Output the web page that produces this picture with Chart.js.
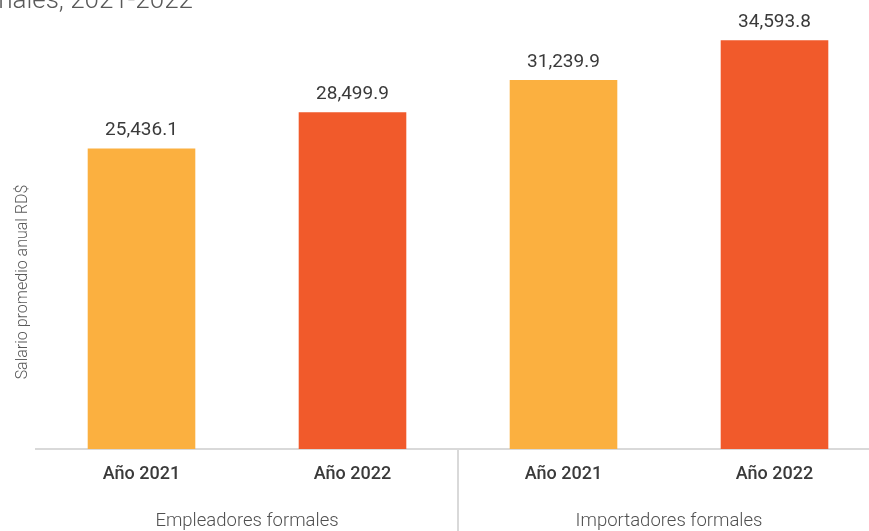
<!DOCTYPE html>
<html>
<head>
<meta charset="utf-8">
<script src="https://cdn.jsdelivr.net/npm/chart.js@4/dist/chart.umd.min.js"></script>
<style>
  html, body { margin: 0; padding: 0; background: #fff; overflow: hidden; }
  #wrap { position: absolute; left: 0; top: 0; width: 900px; height: 531px; }
</style>
</head>
<body>
<div id="wrap"><canvas id="barChart" width="900" height="531"></canvas></div>
<script>
// datos del gráfico
const categorias = ['Año 2021', 'Año 2022', 'Año 2021', 'Año 2022'];
const grupos = ['Empleadores formales', 'Importadores formales'];
const salarios = [25436.1, 28499.9, 31239.9, 34593.8];
const colores = ['#FBB040', '#F15A2B', '#FBB040', '#F15A2B'];
const tituloY = 'Salario promedio anual RD$';
const tituloGrafico = 'Salario promedio anual de empleadores e importadores formales, 2021-2022';

const fmt = v => v.toLocaleString('en-US', { minimumFractionDigits: 1, maximumFractionDigits: 1 });

// etiquetas, grupos y títulos
const extras = {
    id: 'extras',
    afterDraw(chart) {
        const ctx = chart.ctx;
        const x = chart.scales.x;
        const area = chart.chartArea;
        ctx.save();

        // valores sobre las barras
        const meta = chart.getDatasetMeta(0);
        ctx.font = '19px Roboto';
        ctx.fillStyle = '#3a3a3a';
        ctx.textAlign = 'center';
        ctx.textBaseline = 'alphabetic';
        meta.data.forEach((bar, i) => {
            ctx.fillText(fmt(salarios[i]), bar.x, bar.y - 13);
        });

        // separador entre grupos
        const sep = (x.getPixelForValue(1) + x.getPixelForValue(2)) / 2;
        ctx.strokeStyle = '#d9d9d9';
        ctx.lineWidth = 2;
        ctx.beginPath();
        ctx.moveTo(sep, area.bottom);
        ctx.lineTo(sep, chart.height);
        ctx.stroke();

        // nombres de grupos
        ctx.font = '300 18.5px Roboto';
        ctx.fillStyle = '#505050';
        ctx.textBaseline = 'middle';
        grupos.forEach((g, k) => {
            const cx = (x.getPixelForValue(2 * k) + x.getPixelForValue(2 * k + 1)) / 2;
            ctx.fillText(g, cx, 521);
        });

        // título del eje Y
        ctx.save();
        ctx.translate(23, 282);
        ctx.rotate(-Math.PI / 2);
        ctx.font = '300 16px Roboto';
        ctx.fillStyle = '#595959';
        ctx.fillText(tituloY, 0, 0);
        ctx.restore();

        // título (cortado arriba)
        ctx.font = '300 26px Roboto';
        ctx.fillStyle = '#595959';
        ctx.textAlign = 'right';
        ctx.textBaseline = 'alphabetic';
        ctx.fillText(tituloGrafico, 193, 8);

        ctx.restore();
    }
};

new Chart(document.getElementById('barChart').getContext('2d'), {
    type: 'bar',
    data: {
        labels: categorias,
        datasets: [{
            data: salarios,
            backgroundColor: colores,
            borderWidth: 0,
            categoryPercentage: 1,
            barPercentage: 0.51
        }]
    },
    options: {
        responsive: false,
        animation: false,
        layout: { padding: { left: 36, right: 20, top: 0, bottom: 0 } },
        plugins: { legend: { display: false }, tooltip: { enabled: false } },
        scales: {
            x: {
                grid: { display: false, drawTicks: false },
                border: { color: '#d9d9d9', width: 2 },
                ticks: { color: '#3a3a3a', font: { family: 'Roboto', size: 18, weight: '500' }, padding: 15 },
                afterFit(scale) { scale.height = 82; }
            },
            y: {
                display: false,
                min: 0,
                max: 38000
            }
        }
    },
    plugins: [extras]
});
</script>
</body>
</html>
